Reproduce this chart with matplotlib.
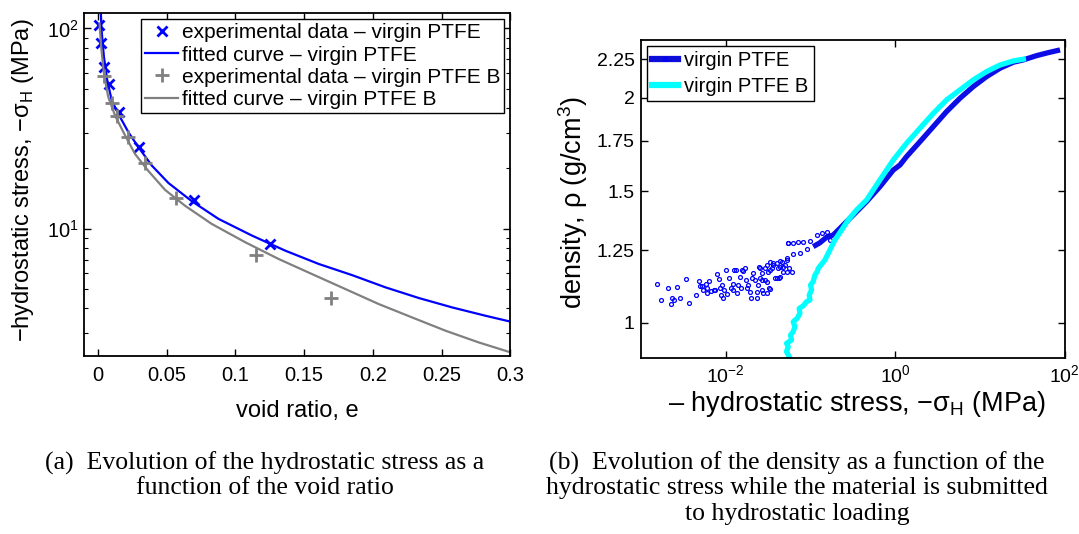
import numpy as np
import matplotlib
matplotlib.use("Agg")
import matplotlib.pyplot as plt
from matplotlib.lines import Line2D
from matplotlib.ticker import FixedLocator, NullLocator, LogLocator, NullFormatter

plt.rcParams['font.family'] = ['Liberation Sans', 'DejaVu Sans']
plt.rcParams['mathtext.fontset'] = 'custom'
plt.rcParams['mathtext.rm'] = 'Liberation Sans'

# (a) void ratio vs hydrostatic stress
exp_e   = [0.0009, 0.0027, 0.0047, 0.0082, 0.0152, 0.0302, 0.0698, 0.1252]
exp_s   = [104, 84.8, 64.4, 52.7, 38.4, 25.6, 13.9, 8.35]
expB_e  = [0.0047, 0.0102, 0.0140, 0.0222, 0.0347, 0.0570, 0.1150, 0.1698]
expB_s  = [57.8, 42.6, 36.5, 28.8, 21.2, 14.2, 7.41, 4.52]
fit_e   = [0.0023, 0.0028, 0.0045, 0.0069, 0.0102, 0.015, 0.0223, 0.0296, 0.0393,
           0.0514, 0.0684, 0.0878, 0.1121, 0.1363, 0.1606, 0.1848, 0.2091, 0.2334,
           0.2576, 0.2819, 0.30]
fit_s   = [118.9, 98.1, 72.2, 55.2, 43.65, 37.4, 30.3, 25.5, 20.65,
           16.9, 13.7, 11.18, 9.23, 7.76, 6.66, 5.86, 5.09, 4.50,
           4.04, 3.67, 3.43]
fitB_e  = [0.0013, 0.0025, 0.0045, 0.0076, 0.0126, 0.0199, 0.0271, 0.0368, 0.049,
           0.0635, 0.0829, 0.1072, 0.1315, 0.1557, 0.18, 0.2042, 0.2285, 0.2528,
           0.277, 0.30]
fitB_s  = [105.9, 81.0, 59.6, 45.6, 36.7, 29.2, 23.6, 19.4, 15.6,
           13.0, 10.55, 8.55, 7.05, 5.93, 4.99, 4.20, 3.60, 3.09,
           2.70, 2.41]

# (b) density vs hydrostatic stress
scat_s = [0.00155, 0.00173, 0.00209, 0.00223, 0.00231, 0.00248, 0.00267, 0.00287, 0.00335, 0.00367,
          0.00443, 0.00481, 0.00494, 0.00527, 0.00541, 0.00577, 0.00593, 0.00609, 0.00637, 0.00661,
          0.00724, 0.0075, 0.00792, 0.00836, 0.00852, 0.00875, 0.00899, 0.00932, 0.0095, 0.01003,
          0.0104, 0.01098, 0.01139, 0.01202, 0.01224, 0.01247, 0.01316, 0.01341, 0.01402, 0.01467,
          0.01494, 0.01536, 0.01607, 0.01681, 0.01728, 0.01759, 0.01841, 0.01927, 0.0198, 0.0207,
          0.02109, 0.02206, 0.02309, 0.02351, 0.02416, 0.02483, 0.02529, 0.02646, 0.02769, 0.02898,
          0.03032, 0.03172, 0.0326, 0.03319, 0.03473, 0.03634, 0.03802, 0.03978, 0.04163, 0.04278,
          0.04357, 0.04558, 0.04769, 0.0499, 0.05222, 0.05464, 0.05615,
          0.02529, 0.03032, 0.03634, 0.04357, 0.05222, 0.06259, 0.07504, 0.08997,
          0.05464, 0.06259, 0.07171, 0.08216, 0.09851, 0.1181, 0.1353, 0.155, 0.1697,
          0.02646, 0.02898, 0.02646, 0.03032, 0.03319, 0.03978, 0.04357, 0.05222, 0.05982, 0.03319, 0.04769]
scat_d = [1.125, 1.071, 1.112, 1.060, 1.080, 1.071, 1.115, 1.078, 1.144, 1.064,
          1.089, 1.137, 1.121, 1.121, 1.106, 1.125, 1.112, 1.095, 1.137, 1.104,
          1.105, 1.105, 1.161, 1.144, 1.112, 1.089, 1.123, 1.078, 1.106, 1.176,
          1.091, 1.149, 1.112, 1.125, 1.106, 1.176, 1.176, 1.095, 1.123, 1.150,
          1.112, 1.176, 1.172, 1.182, 1.141, 1.112, 1.123, 1.100, 1.078, 1.146,
          1.164, 1.141, 1.080, 1.098, 1.123, 1.188, 1.146, 1.164, 1.095, 1.182,
          1.135, 1.170, 1.112, 1.207, 1.182, 1.195, 1.146, 1.201, 1.182, 1.146,
          1.188, 1.207, 1.170, 1.195, 1.213, 1.277, 1.182,
          1.182, 1.195, 1.201, 1.211, 1.219, 1.236, 1.241, 1.254,
          1.279, 1.279, 1.281, 1.282, 1.285, 1.310, 1.317, 1.324, 1.290,
          1.141, 1.141, 1.106, 1.097, 1.111, 1.146, 1.150, 1.170, 1.170, 1.176, 1.188]
band_s = [0.1078, 0.1293, 0.155, 0.1858, 0.2228, 0.2671, 0.3201, 0.3837, 0.4601, 0.661,
          0.950, 1.139, 1.366, 1.963, 2.821, 4.054, 5.83, 8.375, 12.04, 17.3,
          24.86, 32.64, 46.9, 64.43, 88.5]
band_d = [1.264, 1.279, 1.301, 1.310, 1.337, 1.365, 1.393, 1.422, 1.452, 1.520,
          1.600, 1.625, 1.668, 1.746, 1.829, 1.916, 1.996, 2.069, 2.134, 2.189,
          2.230, 2.246, 2.276, 2.297, 2.316]
cyan_s = [0.05615, 0.05222, 0.05464, 0.05222, 0.05982, 0.05823, 0.06259, 0.0655, 0.06259, 0.0698,
          0.07504, 0.07369, 0.08216, 0.08997, 0.09851, 0.09674, 0.1031, 0.1003, 0.1078, 0.1129,
          0.1202, 0.1236, 0.1482, 0.1697, 0.1944, 0.2332, 0.2794, 0.3505, 0.4601, 0.661,
          0.950, 1.366, 1.963, 2.821, 4.054, 5.83, 8.375, 12.04, 17.3, 24.86, 32.64]
cyan_d = [0.9005, 0.9146, 0.9288, 0.9384, 0.948, 0.9627, 0.9727, 0.9879, 1.003, 1.0135,
          1.029, 1.045, 1.053, 1.067, 1.072, 1.089, 1.106, 1.123, 1.135, 1.158,
          1.170, 1.182, 1.213, 1.251, 1.290, 1.330, 1.372, 1.415, 1.459, 1.552,
          1.650, 1.738, 1.820, 1.905, 1.986, 2.048, 2.112, 2.167, 2.211, 2.239, 2.251]

gray = (0.5, 0.5, 0.5)
fig = plt.figure(figsize=(10.79, 5.34), dpi=100)

def style(ax, lsize):
    ax.tick_params(which='both', direction='in', top=True, right=True, labelsize=lsize)
    ax.tick_params(which='major', length=5, width=1)
    ax.tick_params(which='minor', length=3, width=0.8)
    for s in ax.spines.values():
        s.set_linewidth(1.3)

# ---- left panel
ax = fig.add_axes([0.0778, 0.3333, 0.3953, 0.6423])
ax.plot(exp_e, exp_s, 'x', color='blue', ms=7, mew=2, label='experimental data \u2013 virgin PTFE')
ax.plot(fit_e, fit_s, '-', color='blue', lw=1.6, label='fitted curve \u2013 virgin PTFE')
ax.plot(expB_e, expB_s, '+', color=gray, ms=10, mew=2, label='experimental data \u2013 virgin PTFE B')
ax.plot(fitB_e, fitB_s, '-', color=gray, lw=1.6, label='fitted curve \u2013 virgin PTFE B')
ax.set_yscale('log')
ax.set_xlim(-0.01, 0.3)
ax.set_ylim(2.31, 119.3)
ax.set_xticks([0, 0.05, 0.1, 0.15, 0.2, 0.25, 0.3])
ax.set_xticklabels(['0', '0.05', '0.1', '0.15', '0.2', '0.25', '0.3'])
ax.yaxis.set_major_locator(FixedLocator([10, 100]))
ax.set_yticklabels([r'$\mathregular{10^{1}}$', r'$\mathregular{10^{2}}$'])
ax.yaxis.set_minor_locator(LogLocator(base=10, subs=np.arange(2, 10)))
ax.yaxis.set_minor_formatter(NullFormatter())
style(ax, 14.5)
ax.tick_params(axis='x', pad=7)
ax.tick_params(axis='y', pad=4)
ax.set_xlabel('void ratio, e', fontsize=17)
ax.xaxis.set_label_coords(0.5, -0.128)
ax.set_ylabel('\u2212hydrostatic stress, \u2212\u03c3$_\\mathregular{H}$ (MPa)', fontsize=17)
ax.yaxis.set_label_coords(-0.112, 0.513)
leg = ax.legend(loc='upper right', fontsize=15, handlelength=1.6, handletextpad=0.15,
                labelspacing=0.15, borderpad=0.2, borderaxespad=0.3, fancybox=False,
                framealpha=1, edgecolor='black')
leg.get_frame().set_linewidth(1.0)

# ---- right panel
bx = fig.add_axes([0.5941, 0.3296, 0.3925, 0.5955])
bx.plot(band_s, band_d, '-', color=(0.05, 0.05, 0.9), lw=3.8, solid_capstyle='butt')
bx.plot(scat_s, scat_d, 'o', color='blue', ms=2.8, mfc='none', mew=0.9, ls='none')
bx.plot(cyan_s, cyan_d, '-', color='cyan', lw=3.8)
bx.set_xscale('log')
bx.set_yscale('log')
bx.set_xlim(1e-3, 1e2)
bx.set_ylim(0.897, 2.388)
bx.xaxis.set_major_locator(FixedLocator([1e-2, 1e0, 1e2]))
bx.set_xticklabels([r'$\mathregular{10^{-2}}$', r'$\mathregular{10^{0}}$', r'$\mathregular{10^{2}}$'])
bx.xaxis.set_minor_locator(NullLocator())
bx.yaxis.set_major_locator(FixedLocator([1, 1.25, 1.5, 1.75, 2, 2.25]))
bx.set_yticklabels(['1', '1.25', '1.5', '1.75', '2', '2.25'])
bx.yaxis.set_minor_locator(NullLocator())
style(bx, 14)
bx.tick_params(axis='x', pad=4.5)
bx.tick_params(axis='y', pad=4.5)
bx.set_xlabel('\u2013 hydrostatic stress, \u2212\u03c3$_\\mathregular{H}$ (MPa)', fontsize=19.5)
bx.xaxis.set_label_coords(0.51, -0.097)
bx.set_ylabel('density, \u03c1 (g/cm$^\\mathregular{3}$)', fontsize=19.5)
bx.yaxis.set_label_coords(-0.12, 0.49)
hb = [Line2D([], [], color=(0.05, 0.05, 0.85), lw=4.5, marker='o', ms=2.5, mfc='none', mec='blue'),
      Line2D([], [], color='cyan', lw=4.5, marker='o', ms=2.5, mfc='none', mec='cyan')]
leg2 = bx.legend(hb, ['virgin PTFE', 'virgin PTFE B'], loc='upper left', fontsize=14.5,
                 handlelength=1.3, handletextpad=0.3, labelspacing=0.35, borderpad=0.25,
                 borderaxespad=0.3, fancybox=False, framealpha=1, edgecolor='black')
leg2.get_frame().set_linewidth(1.0)

# ---- captions
cap = dict(family=['Liberation Serif', 'DejaVu Serif'], fontsize=18.5, ha='center', va='center')
fig.text(265 / 1079, 1 - 463 / 534, '(a)  Evolution of the hydrostatic stress as a', **cap)
fig.text(265 / 1079, 1 - 488 / 534, 'function of the void ratio', **cap)
fig.text(797 / 1079, 1 - 463 / 534, '(b)  Evolution of the density as a function of the', **cap)
fig.text(797 / 1079, 1 - 488 / 534, 'hydrostatic stress while the material is submitted', **cap)
fig.text(797 / 1079, 1 - 514 / 534, 'to hydrostatic loading', **cap)

fig.savefig('out.png', dpi=100)
